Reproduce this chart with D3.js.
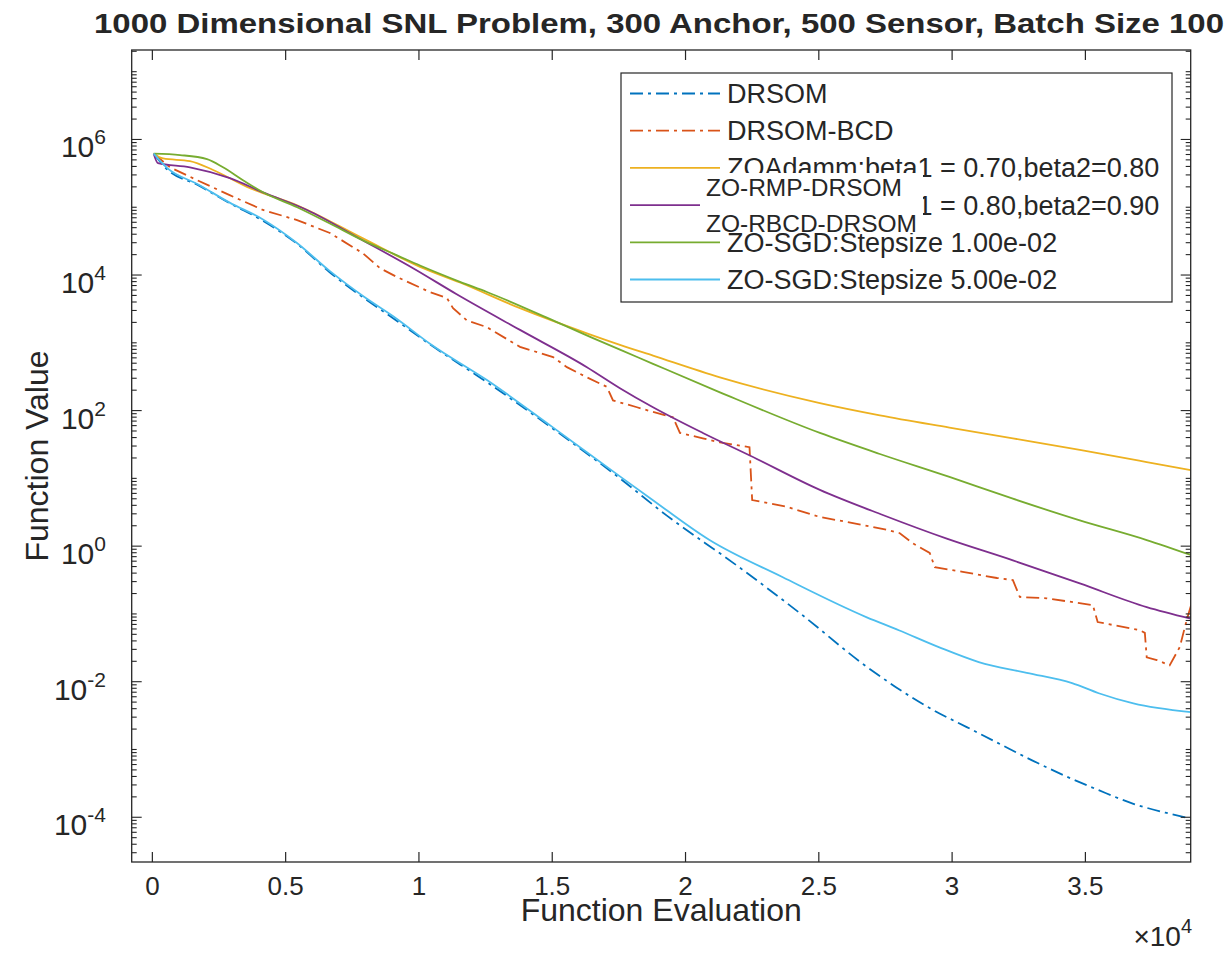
<!DOCTYPE html>
<meta charset="utf-8">
<head>
<style>
body { margin: 0; background: #fff; }
text { font-family: "Liberation Sans", Arial, sans-serif; fill: #262626; }
</style>
</head>
<body>
<div id="chart"></div>
<script src="https://d3js.org/d3.v7.min.js"></script>
<script>

// ---- data ----
var evalsDRSOM = [50, 550, 1700, 2900, 4150, 5400, 6650, 7900, 9150, 10400, 12550, 15000, 17540, 19300, 21800, 24300, 26800, 29300, 30550, 31800, 33000, 34300, 35500, 36800, 38000, 38950];
var valsDRSOM  = [6.17e5, 3.63e5, 2.14e5, 1.15e5, 6.31e4, 2.95e4, 1.10e4, 4.68e3, 2.14e3, 955, 263, 55.0, 10.0, 2.82, 0.562, 0.102, 1.66e-2, 3.80e-3, 2.14e-3, 1.20e-3, 6.92e-4, 3.98e-4, 2.51e-4, 1.58e-4, 1.17e-4, 9.55e-5];

var evalsBCD = [50, 660, 1680, 2900, 4150, 5430, 6660, 7900, 8540, 9180, 10400, 11050, 11280, 11800, 12550, 13790, 15030, 15550, 16300, 17050, 17280, 18180, 18780, 19530, 19790, 20650, 21290, 22400, 22500, 23800, 25040, 26280, 27550, 28040, 28530, 29160, 29350, 30400, 31680, 32280, 32540, 33550, 35280, 35460, 37040, 37230, 37300, 37680, 38160, 38540, 38800, 38990];
var valsBCD  = [6.17e5, 3.89e5, 2.51e5, 1.51e5, 9.12e4, 6.46e4, 4.17e4, 2.09e4, 1.26e4, 9.33e3, 5.62e3, 4.57e3, 3.24e3, 2.14e3, 1.70e3, 871, 617, 437, 309, 224, 141, 112, 95.5, 79.4, 46.8, 38.9, 33.9, 28.8, 4.79, 3.80, 2.69, 2.19, 1.74, 1.55, 1.10, 0.794, 0.490, 0.417, 0.339, 0.316, 0.178, 0.170, 0.135, 7.59e-2, 5.75e-2, 5.25e-2, 2.29e-2, 2.09e-2, 1.74e-2, 3.24e-2, 8.13e-2, 0.145];

var evalsAdamm1 = [50, 400, 1410, 2280, 3550, 5430, 7900, 10040, 11540, 13790, 16300, 17540, 18780, 21290, 25040, 27290, 29900, 32280, 34790, 37300, 38950];
var valsAdamm1  = [6.17e5, 5.25e5, 4.79e5, 3.55e5, 2.00e5, 1.07e5, 3.47e4, 1.32e4, 7.76e3, 3.24e3, 1.38e3, 933, 646, 309, 129, 85.1, 56.2, 38.9, 26.3, 17.4, 13.2];

var evalsAdamm2 = [50, 210, 1410, 2910, 4150, 5800, 7900, 9780, 11400, 13790, 16300, 17540, 18780, 20650, 22450, 25040, 27400, 29800, 32280, 34790, 37300, 38950];
var valsAdamm2  = [6.17e5, 4.47e5, 3.89e5, 2.69e5, 1.66e5, 9.12e4, 3.24e4, 1.26e4, 5.25e3, 1.55e3, 437, 214, 112, 46.8, 21.4, 6.76, 2.88, 1.29, 0.617, 0.282, 0.126, 8.51e-2];

var evalsSGD1 = [50, 1040, 2050, 2650, 3400, 4150, 5430, 6660, 7900, 9180, 10040, 11540, 12550, 15030, 16530, 17540, 18780, 21290, 25040, 27290, 29900, 32280, 34790, 37300, 38950];
var valsSGD1  = [6.17e5, 5.89e5, 5.13e5, 3.89e5, 2.51e5, 1.66e5, 1.00e5, 5.75e4, 3.24e4, 1.95e4, 1.38e4, 7.94e3, 5.62e3, 2.14e3, 1.17e3, 794, 490, 186, 46.8, 22.9, 10.5, 5.01, 2.40, 1.23, 0.741];

var evalsSGD5 = [50, 550, 1700, 2900, 4150, 5400, 6650, 7900, 9150, 10400, 12550, 15000, 17540, 18700, 20900, 23650, 26800, 28000, 29500, 31000, 32800, 34500, 35500, 36800, 38950];
var valsSGD5  = [6.17e5, 3.80e5, 2.19e5, 1.17e5, 6.61e4, 3.02e4, 1.15e4, 4.90e3, 2.29e3, 977, 282, 57.5, 10.7, 5.01, 1.23, 0.347, 8.91e-2, 5.75e-2, 3.24e-2, 1.95e-2, 1.35e-2, 9.55e-3, 6.76e-3, 4.79e-3, 3.55e-3];

var legendNames = ["DRSOM", "DRSOM-BCD", "ZOAdamm:beta1 = 0.70,beta2=0.80", "ZOAdamm:beta1 = 0.80,beta2=0.90", "ZO-SGD:Stepsize 1.00e-02", "ZO-SGD:Stepsize 5.00e-02"];
var overlayNames = ["ZO-RMP-DRSOM", "ZO-RBCD-DRSOM"];
var xTicks = [0, 5000, 10000, 15000, 20000, 25000, 30000, 35000];
var xTickLabels = ["0", "0.5", "1", "1.5", "2", "2.5", "3", "3.5"];
var yTickExps = [-4, -2, 0, 2, 4, 6];

var titleText = "1000 Dimensional SNL Problem, 300 Anchor, 500 Sensor, Batch Size 100";

// ---- styles ----
var colors = ["#0072BD", "#D95319", "#EDB120", "#7E2F8E", "#77AC30", "#4DBEEE"];
var dashes = ["13,5,3,5", "13,5,3,5", null, null, null, null];

var series = [
  {x: evalsDRSOM, y: valsDRSOM, curve: d3.curveMonotoneX},
  {x: evalsBCD, y: valsBCD, curve: d3.curveLinear},
  {x: evalsAdamm1, y: valsAdamm1, curve: d3.curveMonotoneX},
  {x: evalsAdamm2, y: valsAdamm2, curve: d3.curveMonotoneX},
  {x: evalsSGD1, y: valsSGD1, curve: d3.curveMonotoneX},
  {x: evalsSGD5, y: valsSGD5, curve: d3.curveMonotoneX}
];

var W = 1232, H = 957;
var box = {left: 131.7, right: 1190.7, top: 50, bottom: 862};

var svg = d3.select("#chart").append("svg")
    .attr("width", W).attr("height", H);

var x = d3.scaleLinear().domain([-775, 38950]).range([box.left, box.right]);
var y = d3.scaleLog().domain([Math.pow(10, -4.66), Math.pow(10, 7.32)]).range([box.bottom, box.top]);

svg.append("defs").append("clipPath").attr("id", "clip")
  .append("rect")
    .attr("x", box.left).attr("y", box.top)
    .attr("width", box.right - box.left).attr("height", box.bottom - box.top);

// lines
var plot = svg.append("g").attr("clip-path", "url(#clip)");
series.forEach(function(s, i) {
  var pts = s.x.map(function(d, k) { return [d, s.y[k]]; });
  var line = d3.line()
      .x(function(d) { return x(d[0]); })
      .y(function(d) { return y(d[1]); })
      .curve(s.curve);
  plot.append("path")
      .attr("d", line(pts))
      .attr("fill", "none")
      .attr("stroke", colors[i])
      .attr("stroke-width", 1.8)
      .attr("stroke-dasharray", dashes[i]);
});

// axes box with inward ticks on all four sides
var axisCol = "#262626";
var axes = svg.append("g");
axes.append("rect")
    .attr("x", box.left).attr("y", box.top)
    .attr("width", box.right - box.left).attr("height", box.bottom - box.top)
    .attr("fill", "none").attr("stroke", axisCol).attr("stroke-width", 1.3);

var majorLen = 10, minorLen = 5;
xTicks.forEach(function(t) {
  var px = x(t);
  axes.append("line").attr("x1", px).attr("x2", px)
      .attr("y1", box.bottom).attr("y2", box.bottom - majorLen)
      .attr("stroke", axisCol).attr("stroke-width", 1.2);
  axes.append("line").attr("x1", px).attr("x2", px)
      .attr("y1", box.top).attr("y2", box.top + majorLen)
      .attr("stroke", axisCol).attr("stroke-width", 1.2);
});

var yMin = y.domain()[0], yMax = y.domain()[1];
for (var e = -5; e <= 7; e++) {
  for (var k = 1; k <= 9; k++) {
    var v = k * Math.pow(10, e);
    if (v < yMin || v > yMax) continue;
    var major = (k === 1 && yTickExps.indexOf(e) >= 0);
    var len = major ? majorLen : minorLen;
    var py = y(v);
    axes.append("line").attr("x1", box.left).attr("x2", box.left + len)
        .attr("y1", py).attr("y2", py)
        .attr("stroke", axisCol).attr("stroke-width", 1.1);
    axes.append("line").attr("x1", box.right).attr("x2", box.right - len)
        .attr("y1", py).attr("y2", py)
        .attr("stroke", axisCol).attr("stroke-width", 1.1);
  }
}

// tick labels
xTicks.forEach(function(t, i) {
  svg.append("text")
      .attr("x", x(t)).attr("y", 895)
      .attr("text-anchor", "middle")
      .attr("font-size", 26)
      .text(xTickLabels[i]);
});

yTickExps.forEach(function(p) {
  var tx = svg.append("text")
      .attr("x", 106).attr("y", y(Math.pow(10, p)) + 18)
      .attr("text-anchor", "end")
      .attr("font-size", 30);
  tx.append("tspan").text("10");
  tx.append("tspan").attr("dy", -13).attr("font-size", 21).text(p);
});

// axis labels
svg.append("text")
    .attr("transform", "translate(48," + ((box.top + box.bottom) / 2) + ") rotate(-90)")
    .attr("text-anchor", "middle")
    .attr("font-size", 32)
    .text("Function Value");

svg.append("text")
    .attr("x", (box.left + box.right) / 2).attr("y", 921)
    .attr("text-anchor", "middle")
    .attr("font-size", 32)
    .text("Function Evaluation");

var mult = svg.append("text")
    .attr("x", 1192).attr("y", 946)
    .attr("text-anchor", "end")
    .attr("font-size", 28);
mult.append("tspan").text("\u00d710");
mult.append("tspan").attr("dy", -13).attr("font-size", 20).text("4");

// title
svg.append("text")
    .attr("x", 659).attr("y", 33)
    .attr("text-anchor", "middle")
    .attr("font-size", 28)
    .attr("font-weight", "bold")
    .attr("fill", "#000")
    .attr("textLength", 1130)
    .attr("lengthAdjust", "spacingAndGlyphs")
    .text(titleText);

// legend
var lg = svg.append("g");
lg.append("rect")
    .attr("x", 621).attr("y", 73).attr("width", 551).attr("height", 229)
    .attr("fill", "#fff").attr("stroke", axisCol).attr("stroke-width", 1.2);
legendNames.forEach(function(name, i) {
  var ly = 93.5 + i * 37.2;
  lg.append("line")
      .attr("x1", 630).attr("x2", 720).attr("y1", ly).attr("y2", ly)
      .attr("stroke", colors[i]).attr("stroke-width", 1.8)
      .attr("stroke-dasharray", dashes[i]);
  lg.append("text")
      .attr("x", 727).attr("y", ly + 9.5)
      .attr("font-size", 27)
      .text(name);
});

// renamed labels pasted over the legend
var ov = svg.append("g");
ov.append("rect")
    .attr("x", 700).attr("y", 173).attr("width", 223).attr("height", 60)
    .attr("fill", "#fff");
overlayNames.forEach(function(name, i) {
  ov.append("text")
      .attr("x", 706).attr("y", 196 + i * 36)
      .attr("font-size", 24.5)
      .text(name);
});

</script>
</body>
